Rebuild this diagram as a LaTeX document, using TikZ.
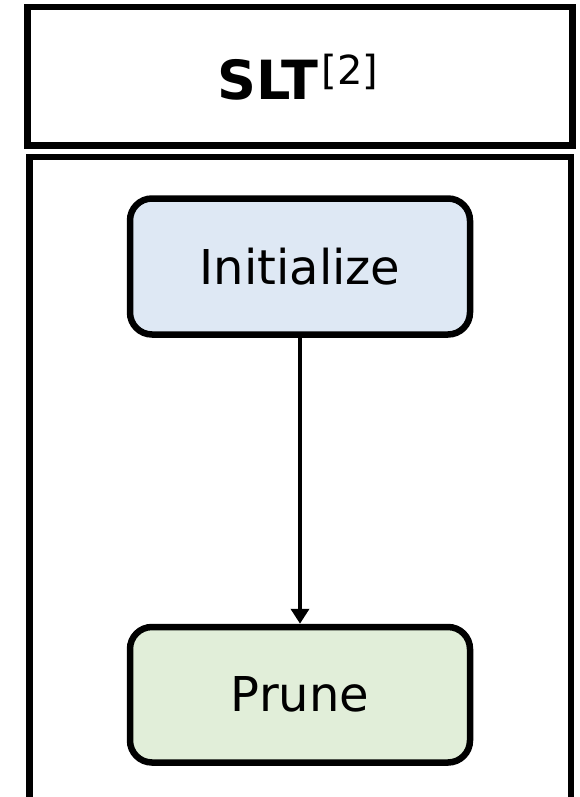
\documentclass[tikz,border=0pt]{standalone}
\usepackage{fontspec}
\setmainfont{DejaVu Sans}
\usetikzlibrary{arrows.meta}
\definecolor{initfill}{HTML}{DEE8F4}
\definecolor{prunefill}{HTML}{E1EED9}
\begin{document}
\begin{tikzpicture}[x=1pt,y=-1pt,
  frame/.style={draw=black,line width=6.5pt},
  stagebox/.style={draw=black,line width=6.5pt,rounded corners=22pt,
    minimum width=340pt,inner sep=0pt,
    font=\fontsize{48}{58}\selectfont},
  flow/.style={line width=4.5pt,-{Triangle[width=18pt,length=15pt]}}]
  \useasboundingbox (0,0) rectangle (580,797);
  % title bar
  \node[frame,minimum width=545pt,minimum height=138.5pt,inner sep=0pt]
    (title) at (300,76.25) {};
  \node[inner sep=0pt,anchor=base] (titletext) at (298,100)
    {\fontsize{54}{62}\selectfont\bfseries SLT\kern3pt\raisebox{15pt}{\fontsize{40}{46}\selectfont\mdseries[2]}};
  % container panel, open at the bottom
  \draw[line width=6.5pt] (29.5,797) -- (29.5,157) -- (571,157) -- (571,797);
  % stages
  \node[stagebox,fill=initfill,minimum height=136pt] (init) at (300,266.5) {Initialize};
  \node[stagebox,fill=prunefill,minimum height=135.5pt] (prune) at (300,694.75) {Prune};
  \draw[flow] (init.south) -- (prune.north);
\end{tikzpicture}
\end{document}
